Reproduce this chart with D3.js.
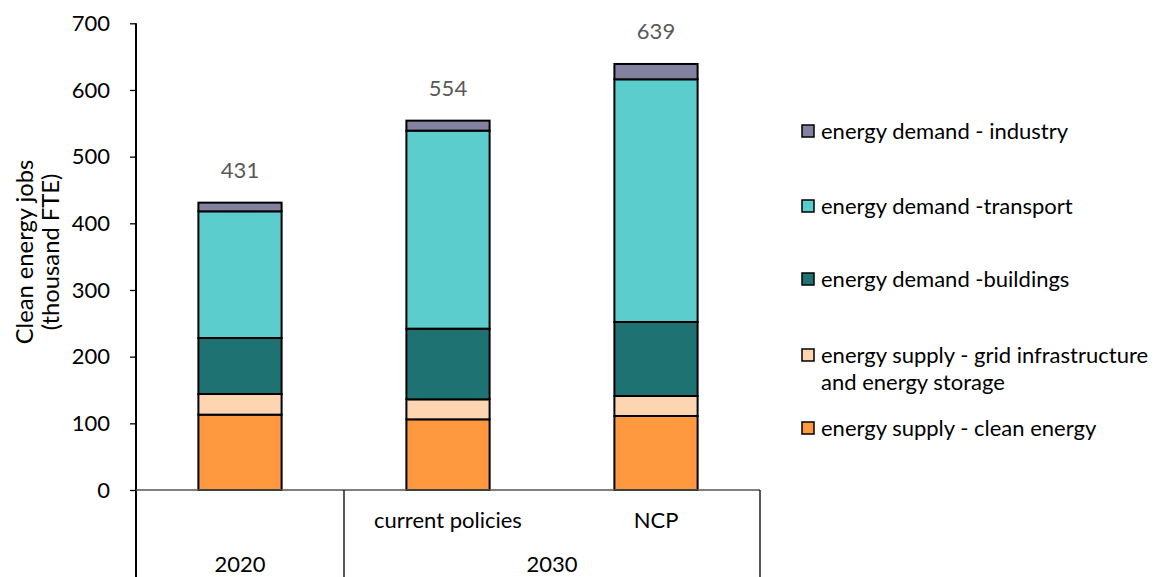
<!DOCTYPE html>
<html><head><meta charset="utf-8">
<script src="https://cdn.jsdelivr.net/npm/d3@7"></script>
<style>body{margin:0;background:#fff;} text{font-family:Lato,"Open Sans",sans-serif;}</style>
</head><body><svg id="c" width="1156" height="577"></svg>
<script>
const categories = ["2020", "current policies", "NCP"];
const groupLabels = ["2020", "2030"];
const seriesNames = ["energy supply - clean energy", "energy supply - grid infrastructure and energy storage", "energy demand -buildings", "energy demand -transport", "energy demand - industry"];
const cleanEnergy = [113, 106, 111];
const gridStorage = [31, 30, 30];
const buildings = [84, 106, 111];
const transport = [190, 297, 364];
const industry = [13, 15, 23];
const totals = [431, 554, 639];
const yTicks = [0, 100, 200, 300, 400, 500, 600, 700];
const colors = ["#FF9940", "#FDD5B1", "#1E7272", "#5CCDCD", "#8282A0"];

(function () {
const svg = d3.select("#c");
const probe = svg.append("text").attr("font-size", 100).text("energy demand - industry");
const w100 = probe.node().getComputedTextLength();
probe.remove();
const fs = Math.min(22, Math.max(16, 100 * 250 / w100));

const mLeft = 136, mRight = 760, mTop = 23.3, mBottom = 490;
const x = d3.scaleBand().domain(categories).range([mLeft, mRight]).paddingInner(0.6).paddingOuter(0.3);
const y = d3.scaleLinear().domain([0, 700]).range([mBottom, mTop]);

const seriesArr = [cleanEnergy, gridStorage, buildings, transport, industry];
const rows = categories.map((c, i) => {
  const o = {cat: c};
  seriesNames.forEach((s, k) => o[s] = seriesArr[k][i]);
  return o;
});
const stacked = d3.stack().keys(seriesNames)(rows);

svg.append("g").selectAll("g").data(stacked).join("g")
  .attr("fill", (d, k) => colors[k])
  .selectAll("rect").data(d => d).join("rect")
  .attr("x", d => x(d.data.cat))
  .attr("width", x.bandwidth())
  .attr("y", d => y(d[1]))
  .attr("height", d => y(d[0]) - y(d[1]))
  .attr("stroke", "#000").attr("stroke-width", 2);

const yAxis = svg.append("g").attr("transform", `translate(${mLeft},0)`)
  .call(d3.axisLeft(y).tickValues(yTicks).tickSize(6).tickPadding(20).tickFormat(d3.format("d")));
yAxis.select(".domain").remove();
yAxis.selectAll("line").attr("stroke", "#000").attr("stroke-width", 1.3);
yAxis.selectAll("text").attr("font-size", fs).attr("fill", "#000").attr("font-family", "Lato, 'Open Sans', sans-serif");
svg.append("line").attr("x1", mLeft).attr("x2", mLeft).attr("y1", y(700)).attr("y2", 577).attr("stroke", "#000").attr("stroke-width", 2);

svg.append("line").attr("x1", mLeft).attr("x2", mRight).attr("y1", mBottom).attr("y2", mBottom).attr("stroke", "#555").attr("stroke-width", 1.5);
const step = x.step();
const sep1 = mLeft + step;
[sep1, mRight].forEach(px => svg.append("line").attr("x1", px).attr("x2", px).attr("y1", mBottom).attr("y2", 577).attr("stroke", "#000").attr("stroke-width", 1.3));

svg.append("g").selectAll("text").data(categories.slice(1)).join("text")
  .attr("x", d => x(d) + x.bandwidth() / 2).attr("y", 528)
  .attr("text-anchor", "middle").attr("font-size", fs).attr("fill", "#000").text(d => d);
svg.append("text").attr("x", x("2020") + x.bandwidth() / 2).attr("y", 572)
  .attr("text-anchor", "middle").attr("font-size", fs).text(groupLabels[0]);
svg.append("text").attr("x", (sep1 + mRight) / 2).attr("y", 572)
  .attr("text-anchor", "middle").attr("font-size", fs).text(groupLabels[1]);

svg.append("g").selectAll("text").data(categories).join("text")
  .attr("x", d => x(d) + x.bandwidth() / 2)
  .attr("y", (d, i) => y(totals[i]) - 25)
  .attr("text-anchor", "middle").attr("font-size", fs).attr("fill", "#595959")
  .text((d, i) => totals[i]);

const yt = svg.append("text").attr("transform", "translate(33,252) rotate(-90)").attr("text-anchor", "middle").attr("font-size", fs * 1.08).attr("fill", "#000");
yt.append("tspan").attr("x", 0).attr("dy", 0).text("Clean energy jobs");
yt.append("tspan").attr("x", 0).attr("dy", 26).text("(thousand FTE)");

const legendItems = [
  {k: 4, lines: ["energy demand - industry"], y: 132},
  {k: 3, lines: ["energy demand -transport"], y: 207},
  {k: 2, lines: ["energy demand -buildings"], y: 280},
  {k: 1, lines: ["energy supply - grid infrastructure", "and energy storage"], y: 356},
  {k: 0, lines: ["energy supply - clean energy"], y: 429}
];
const lg = svg.append("g");
legendItems.forEach(it => {
  lg.append("rect").attr("x", 802).attr("y", it.y - 7).attr("width", 12).attr("height", 12)
    .attr("fill", colors[it.k]).attr("stroke", "#000").attr("stroke-width", 1.5);
  const t = lg.append("text").attr("x", 821).attr("y", it.y + 7).attr("font-size", fs).attr("fill", "#000");
  it.lines.forEach((l, j) => t.append("tspan").attr("x", 821).attr("dy", j === 0 ? 0 : 27).text(l));
});
})();
</script></body></html>
